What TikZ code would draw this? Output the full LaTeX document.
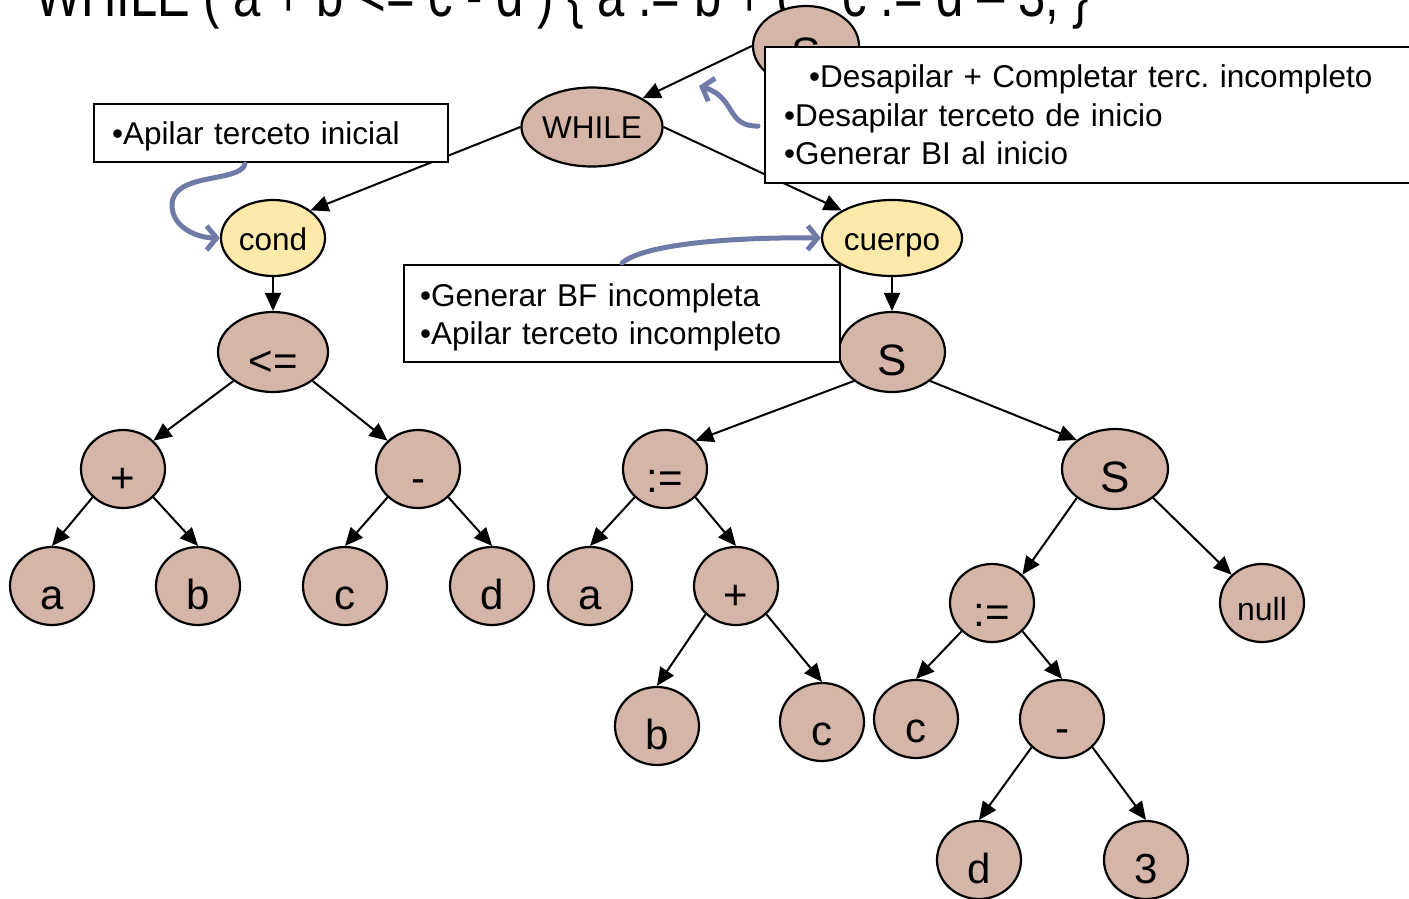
\documentclass[tikz,border=0pt]{standalone}
\usepackage{fontspec}
\setmainfont{Liberation Sans}
\usetikzlibrary{shapes.geometric,arrows.meta}
\definecolor{nodefill}{RGB}{212,181,168}
\definecolor{yel}{RGB}{253,234,170}
\definecolor{blu}{RGB}{111,122,166}
\pgfdeclarelayer{bg}
\pgfsetlayers{bg,main}
\frenchspacing
\begin{document}
\begin{tikzpicture}[x=1pt,y=-1pt,
  tn/.style={ellipse,draw=black,line width=2.2pt,fill=nodefill,inner sep=0pt,
    minimum width=84pt,minimum height=78pt,font=\fontsize{42}{42}\selectfont,
    text height=46pt,text depth=0pt},
  sn/.style={tn,minimum width=106pt,minimum height=80pt,font=\fontsize{44}{44}\selectfont},
  wn/.style={tn,font=\fontsize{31.5}{31.5}\selectfont,text height=23pt},
  yn/.style={tn,fill=yel,font=\fontsize{31.5}{31.5}\selectfont,text height=24pt,minimum height=76pt},
  arr/.style={line width=2pt,-{Triangle[length=18pt,width=16pt]}},
  bx/.style={draw=black,line width=2.6pt,fill=white,rectangle,inner ysep=0pt,
    align=left,font=\fontsize{31.5}{38.5}\selectfont},
  bl/.style={blu,line width=5pt,line cap=round,-{Straight Barb[length=10pt,width=24pt]}}]
\useasboundingbox (0,0) rectangle (1409,899);
\clip (0,0) rectangle (1409,899);

% title (partly cut off at the top)
\node[anchor=base west,inner sep=0pt] (title) at (35,17)
  {\scalebox{1}[1.25]{\fontsize{49}{49}\selectfont WHILE ( a + b <= c - d ) \{ a := b + c ; c := d – 3; \}}};

% tree nodes
\node[sn] (S0) at (806,46) {S};
\node[wn,minimum width=130pt,minimum height=79pt] (wh) at (592,127) {WHILE};
\node[yn,minimum width=104pt] (cond) at (273,238) {cond};
\node[yn,minimum width=140pt] (cuerpo) at (892,238) {cuerpo};
\node[tn,minimum width=110pt,minimum height=80pt] (le) at (273,352) {<=};
\node[tn] (p1) at (123,469) {+};
\node[tn] (m1) at (418,469) {-};
\node[tn] (a1) at (52,586) {a};
\node[tn] (b1n) at (198,586) {b};
\node[tn] (c1) at (345,586) {c};
\node[tn] (d1) at (492,586) {d};
\node[sn] (S1) at (892,352) {S};
\node[tn] (as1) at (665,469) {:=};
\node[tn] (a2) at (590,586) {a};
\node[tn] (p2) at (736,586) {+};
\node[tn] (b2) at (657,726) {b};
\node[tn] (c2) at (822,722) {c};
\node[sn] (S2) at (1115,469) {S};
\node[tn] (as2) at (992,603) {:=};
\node[tn,font=\fontsize{32}{32}\selectfont,text height=34pt] (nul) at (1262,603) {null};
\node[tn] (c3) at (916,719) {c};
\node[tn] (m2) at (1062,719) {-};
\node[tn] (d3) at (979,860) {d};
\node[tn] (n3) at (1146,860) {3};

% connectors
\begin{pgfonlayer}{bg}
\draw[arr] (S0.west) -- (wh.north east);
\draw[arr] (wh.west) -- (cond.north east);
\draw[arr] (wh.east) -- (cuerpo.north west);
\draw[arr] (cond.south) -- (le.north);
\draw[arr] (cuerpo.south) -- (S1.north);
\draw[arr] (le.south west) -- (p1.north east);
\draw[arr] (le.south east) -- (m1.north west);
\draw[arr] (p1.south west) -- (a1.north);
\draw[arr] (p1.south east) -- (b1n.north);
\draw[arr] (m1.south west) -- (c1.north);
\draw[arr] (m1.south east) -- (d1.north);
\draw[arr] (S1.south west) -- (as1.north east);
\draw[arr] (S1.south east) -- (S2.north west);
\draw[arr] (as1.south west) -- (a2.north);
\draw[arr] (as1.south east) -- (p2.north);
\draw[arr] (p2.south west) -- (b2.north);
\draw[arr] (p2.south east) -- (c2.north);
\draw[arr] (S2.south west) -- (as2.north east);
\draw[arr] (S2.south east) -- (nul.north west);
\draw[arr] (as2.south west) -- (c3.north);
\draw[arr] (as2.south east) -- (m2.north);
\draw[arr] (m2.south west) -- (d3.north);
\draw[arr] (m2.south east) -- (n3.north);
\end{pgfonlayer}

% annotation boxes
\node[bx,text width=318pt,inner xsep=18pt,minimum height=58pt] (box1) at (271,133)
  {\rule{0pt}{29pt}•Apilar terceto inicial};
\node[bx,text width=404pt,inner xsep=16pt,minimum height=97pt] (box2) at (622,313.5)
  {\rule{0pt}{31pt}•Generar BF incompleta\\•Apilar terceto incompleto};
\node[bx,text width=627pt,inner xsep=19pt,minimum height=136pt] (box3) at (1097.5,115)
  {\hspace*{25pt}•Desapilar + Completar terc. incompleto\\•Desapilar terceto de inicio\\•Generar BI al inicio};

% curved hint arrows
\coordinate (t1) at (245,164);
\coordinate (t2) at (622,263);
\coordinate (t3) at (758,126);
\coordinate (h3) at (699,86);
\draw[bl] (t1) .. controls (240,183) and (172,172) .. (172,205)
  .. controls (172,228) and (198,238) .. (cond.west);
\draw[bl] (t2) .. controls (645,243) and (740,237) .. (cuerpo.west);
\draw[bl] (t3) .. controls (726,127) and (736,97) .. (h3);
\end{tikzpicture}
\end{document}
